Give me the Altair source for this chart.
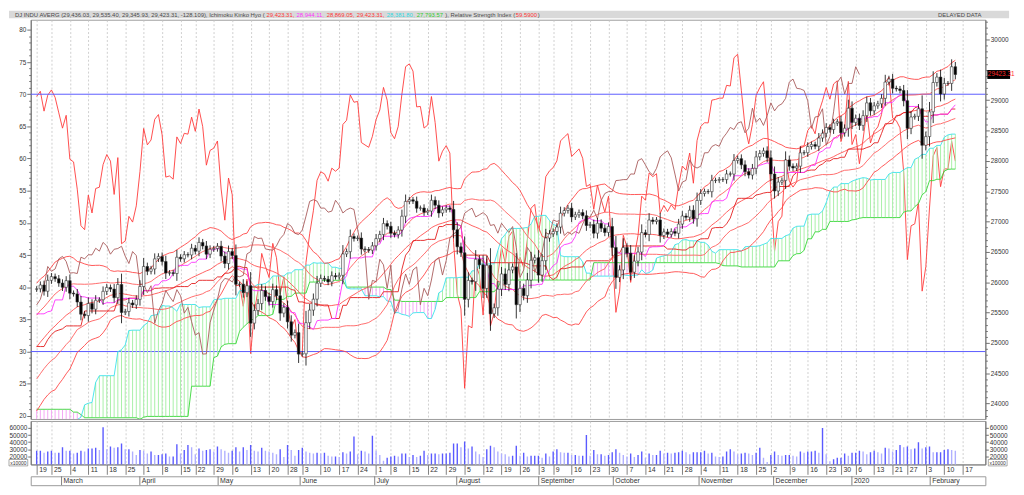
import json
import altair as alt
import pandas as pd
import numpy as np

# ---------------- data: DJIA daily closes (trading days) ----------------
close_2018_10 = [24984, 24689, 24443, 24874, 25116]
close_2018_11 = [25380, 25271, 25462, 25635, 26181, 26191, 25989, 25387, 25286, 25081, 25290,
                 25414, 25018, 24466, 24465, 24286, 24640, 24749, 25367, 25339, 25538]
close_2018_12 = [25826, 25027, 24947, 24389, 24423, 24370, 24527, 24597, 24101, 23592, 23675,
                 23324, 22859, 22445, 21792, 22878, 23139, 23062, 23327]
close_2019_01 = [23346, 22686, 23433, 23531, 23787, 23879, 24001, 23996, 23910, 24065, 24207,
                 24370, 24706, 24404, 24575, 24553, 24737, 24528, 24580, 25014, 24999]
close_2019_02 = [25064, 25239, 25411, 25390, 25169, 25106, 25053, 25425, 25543, 25439, 25883,
                 25891, 25954, 25851, 26031, 26092, 26057, 25986, 25916]
close_2019_03 = [26026, 25820, 25807, 25673, 25473, 25450, 25650, 25555, 25702, 25710, 25849,
                 25914, 25887, 25745, 25963, 25502, 25517, 25658, 25626, 25717, 25929]
close_2019_04 = [26259, 26180, 26218, 26385, 26425, 26341, 26150, 26157, 26143, 26412, 26385,
                 26453, 26450, 26560, 26512, 26656, 26598, 26462, 26543, 26555, 26593]
close_2019_05 = [26430, 26308, 26505, 26439, 25965, 25968, 25828, 25942, 25325, 25533, 25648,
                 25863, 25764, 25680, 25877, 25776, 25490, 25586, 25348, 25127, 25169, 24815]
close_2019_06 = [24820, 25333, 25540, 25720, 25984, 26062, 26049, 26004, 26107, 26090, 26113,
                 26466, 26504, 26753, 26720, 26727, 26548, 26537, 26527, 26600]
close_2019_07 = [26718, 26787, 26966, 26922, 26806, 26784, 26860, 27088, 27332, 27359, 27336,
                 27220, 27223, 27154, 27172, 27350, 27270, 27141, 27193, 27222, 27199, 26864]
close_2019_08 = [26583, 26485, 25718, 26030, 26008, 26378, 26287, 25897, 26280, 25479, 25579,
                 25886, 26136, 25963, 26202, 26252, 25629, 25899, 25778, 26036, 26362, 26403]
close_2019_09 = [26118, 26355, 26728, 26797, 26835, 26909, 27137, 27182, 27220, 27076, 27111,
                 27147, 27095, 26935, 26950, 26808, 26971, 26891, 26820, 26917]
close_2019_10 = [26573, 26079, 26202, 26573, 26478, 26165, 26347, 26497, 26817, 26787, 27025,
                 27001, 27026, 26770, 26828, 26789, 26834, 26806, 26958, 27091, 27071, 27186, 27046]
close_2019_11 = [27347, 27462, 27493, 27492, 27675, 27681, 27691, 27691, 27784, 27782, 28005,
                 28036, 27934, 27821, 27766, 27876, 28066, 28122, 28165, 28051]
close_2019_12 = [27783, 27503, 27650, 27678, 28015, 27910, 27882, 27912, 28132, 28135, 28236,
                 28268, 28240, 28377, 28455, 28551, 28516, 28622, 28645, 28462, 28538]
close_2020_01 = [28869, 28634, 28703, 28584, 28745, 28956, 28824, 28907, 28940, 29030, 29298,
                 29348, 29196, 29186, 29160, 28990, 28536, 28723, 28734, 28859, 28256]
close_2020_02 = [28400, 28808, 29291, 29380, 29103, 29276, 29276, 29551, 29423.31]

# volume (shares), visible range only (from 2019-02-19)
vol_2019_02 = [28000, 28000, 25000, 27000, 28000, 25000, 25000, 33000]
vol_2019_03 = [28000, 28000, 24000, 25000, 28000, 27000, 31000, 31000, 32000, 29000, 61000,
               30000, 34000, 32000, 33000, 38000, 30000, 30000, 27000, 22000, 29000]
vol_2019_04 = [28000, 24000, 27000, 22000, 22000, 23000, 24000, 20000, 20000, 37000, 24000,
               29000, 36000, 33000, 23000, 31000, 28000, 29000, 30000, 27000, 34000]
vol_2019_05 = [30000, 28000, 25000, 28000, 33000, 27000, 33000, 29000, 36000, 28000, 27000,
               32000, 28000, 27000, 25000, 23000, 30000, 19000, 36000, 29000, 21000, 29000]
vol_2019_06 = [32000, 27000, 25000, 24000, 25000, 24000, 25000, 21000, 20000, 20000, 19000,
               26000, 24000, 27000, 48000, 23000, 28000, 27000, 24000, 49000]
vol_2019_07 = [28000, 22000, 14000, 18000, 20000, 21000, 20000, 24000, 24000, 19000, 22000,
               19000, 21000, 28000, 22000, 24000, 24000, 23000, 24000, 24000, 25000, 38000]
vol_2019_08 = [38000, 33000, 41000, 31000, 34000, 27000, 23000, 19000, 30000, 35000, 33000,
               27000, 24000, 23000, 20000, 21000, 35000, 21000, 25000, 20000, 21000, 21000]
vol_2019_09 = [21000, 18000, 24000, 20000, 27000, 30000, 26000, 25000, 25000, 22000, 22000,
               21000, 21000, 50000, 21000, 29000, 23000, 23000, 21000, 22000]
vol_2019_10 = [26000, 30000, 25000, 22000, 20000, 24000, 19000, 22000, 27000, 18000, 24000,
               22000, 22000, 28000, 24000, 25000, 24000, 25000, 26000, 28000, 26000, 23000, 26000]
vol_2019_11 = [26000, 26000, 28000, 24000, 25000, 20000, 19000, 20000, 27000, 30000, 27000,
               23000, 24000, 25000, 24000, 22000, 25000, 32000, 18000, 12000]
vol_2019_12 = [22000, 27000, 22000, 21000, 22000, 22000, 21000, 20000, 27000, 25000, 27000,
               27000, 28000, 25000, 60000, 23000, 13000, 16000, 18000, 18000, 24000]
vol_2020_01 = [21000, 25000, 25000, 28000, 27000, 23000, 26000, 28000, 26000, 24000, 32000,
               31000, 27000, 29000, 36000, 33000, 34000, 30000, 31000, 40000, 31000]
vol_2020_02 = [33000, 34000, 26000, 26000, 26000, 29000, 30000, 29000, 28000]

market_holidays = ["2018-11-22", "2018-12-05", "2018-12-25", "2019-01-01", "2019-01-21",
                   "2019-02-18", "2019-04-19", "2019-05-27", "2019-07-04", "2019-09-02",
                   "2019-11-28", "2019-12-25", "2020-01-01", "2020-01-20"]
month_names = ["March", "April", "May", "June", "July", "August", "September", "October",
               "November", "December", "2020", "February"]
rsi_levels = [70, 30]
last_price = [29423.31]

# ---------------- build table ----------------
closes = (close_2018_10 + close_2018_11 + close_2018_12 + close_2019_01 + close_2019_02 +
          close_2019_03 + close_2019_04 + close_2019_05 + close_2019_06 + close_2019_07 +
          close_2019_08 + close_2019_09 + close_2019_10 + close_2019_11 + close_2019_12 +
          close_2020_01 + close_2020_02)
volumes = (vol_2019_02 + vol_2019_03 + vol_2019_04 + vol_2019_05 + vol_2019_06 + vol_2019_07 +
           vol_2019_08 + vol_2019_09 + vol_2019_10 + vol_2019_11 + vol_2019_12 + vol_2020_01 +
           vol_2020_02)

dates = pd.bdate_range("2018-10-25", "2020-02-13")
dates = dates[~dates.isin(pd.to_datetime(market_holidays))]
n = min(len(dates), len(closes))
df = pd.DataFrame({"date": dates[:n], "close": closes[:n]})
df["open"] = df["close"].shift(1).fillna(df["close"])
body_hi = np.maximum(df["open"], df["close"])
body_lo = np.minimum(df["open"], df["close"])
wick = 0.3 * (df["close"] - df["open"]).abs() + 40
df["high"] = body_hi + wick
df["low"] = body_lo - wick

# Ichimoku
df["tenkan"] = (df["high"].rolling(9).max() + df["low"].rolling(9).min()) / 2
df["kijun"] = (df["high"].rolling(26).max() + df["low"].rolling(26).min()) / 2
df["sa"] = ((df["tenkan"] + df["kijun"]) / 2).shift(26)
df["sb"] = ((df["high"].rolling(52).max() + df["low"].rolling(52).min()) / 2).shift(26)
df["chikou"] = df["close"].shift(-26)
# Bollinger (25)
m = df["close"].rolling(25).mean()
sd = df["close"].rolling(25).std(ddof=0)
df["bbm"] = m
df["bbu1"], df["bbl1"] = m + sd, m - sd
df["bbu2"], df["bbl2"] = m + 2 * sd, m - 2 * sd
# RSI 14 (Wilder)
d = df["close"].diff()
ag = d.clip(lower=0).fillna(0).ewm(alpha=1 / 14, adjust=False).mean()
al = (-d.clip(upper=0)).fillna(0).ewm(alpha=1 / 14, adjust=False).mean()
df["rsi"] = 100 - 100 / (1 + ag / al)

vis = df[df["date"] >= "2019-02-19"].copy().reset_index(drop=True)
vis["idx"] = np.arange(len(vis))
k = min(len(vis), len(volumes))
vis = vis.iloc[:k].copy()
vis["volume"] = volumes[:k]
vis["vdir"] = np.where(vis["volume"] >= vis["volume"].shift(1).fillna(0), "inc", "dec")
vis["dir"] = np.where(vis["close"] >= vis["open"], "up", "down")
vis["cloud"] = np.where(vis["sa"] >= vis["sb"], "bull", "bear")

# week ticks (first trading day of each week) + next week's Monday
iso = vis["date"].dt.isocalendar()
wk = vis.groupby([iso["year"], iso["week"]])["idx"].min().sort_values()
week_idx = [int(v) for v in wk.values] + [len(vis) + 1]
week_lbl = [str(vis.loc[i, "date"].day) for i in week_idx[:-1]] + ["17"]
mstart = vis.groupby(vis["date"].dt.to_period("M"))["idx"].min().sort_values()
month_idx = [int(v) for v in mstart.values if v > 0]
mon_df = pd.DataFrame({"idx": month_idx[:len(month_names)], "name": month_names[:len(month_idx)]})

# ---------------- layout constants ----------------
W = 966
H_HDR, H_MAIN, H_VOL, H_MON = 6, 404, 44, 9
XDOM = [-0.27, 255.8]
PDOM = [23746, 30326]
RDOM = [19.52, 81.58]
VDOM = [8700, 69900]
FONT = "Liberation Sans"
AXFS = 6.5
GRID = dict(grid=True, gridDash=[2, 2], gridColor="#c4c4c4", gridWidth=0.8)

xs = alt.Scale(domain=XDOM, nice=False, zero=False)
X_main = alt.X("idx:Q", scale=xs, title=None,
               axis=alt.Axis(values=week_idx, labels=False, ticks=False, domain=False,
                             minExtent=0, maxExtent=0, **GRID))

# ---------------- header ----------------
CW = {",": .278, ".": .278, " ": .278, "(": .333, ")": .333, "-": .333, "D": .722, "J": .5,
      "I": .278, "N": .722, "U": .722, "A": .667, "V": .667, "E": .667, "R": .722, "G": .778,
      "K": .667, "H": .722, "S": .667, "L": .556, "Y": .667, "T": .611, "i": .222, "l": .222,
      "m": .833, "t": .278, "r": .333, "f": .278, "j": .222, "c": .5, "k": .5, "s": .5,
      "v": .5, "x": .5, "y": .5, "z": .5}


def emw(s):
    return sum(CW.get(c, .556) for c in s)


segs = [("DJ INDU AVERG (29,436.03, 29,535.40, 29,345.93, 29,423.31, -128.109), Ichimoku Kinko Hyo (", "#4a4a4a"),
        ("29,423.31, ", "#ff3434"), ("28,944.11, ", "#ff33ff"), ("28,869.05, ", "#ff3434"),
        ("29,423.31, ", "#ff3434"), ("28,381.80, ", "#2fd8e0"), ("27,793.57 ", "#30cc30"),
        ("), Relative Strength Index (", "#4a4a4a"), ("59.5900", "#ff3434"), (")", "#4a4a4a")]
hfs = 254.0 / emw(segs[0][0])
x0 = 14 - 30.0
rows = []
for t, c in segs:
    rows.append({"text": t.rstrip(), "px": x0, "col": c})
    x0 += emw(t) * hfs + 0.6
hdr_df = pd.DataFrame(rows)

one = pd.DataFrame({"a": [0]})
hdr_bg = alt.Chart(one).mark_rect(color="#d9d9d9").encode(
    x=alt.value(-22), x2=alt.value(W + 24), y=alt.value(-1), y2=alt.value(H_HDR + 0.5))
hdr_txt = alt.Chart(hdr_df).mark_text(align="left", baseline="middle", font=FONT, fontSize=hfs).encode(
    x=alt.X("px:Q", scale=None), y=alt.value(H_HDR / 2), text="text:N", color=alt.Color("col:N", scale=None))
hdr_right = alt.Chart(pd.DataFrame({"t": ["DELAYED DATA"]})).mark_text(
    align="right", baseline="middle", font=FONT, fontSize=hfs, color="#4a4a4a").encode(
    x=alt.value(W - 4), y=alt.value(H_HDR / 2), text="t:N")
header = alt.layer(hdr_bg, hdr_txt, hdr_right).properties(
    width=W, height=H_HDR, view=alt.ViewBackground(strokeWidth=0))

# ---------------- main panel ----------------
rs = alt.Scale(domain=RDOM, nice=False, zero=False)
r_axis = alt.Axis(orient="left", values=list(range(20, 81)), title=None, grid=False,
                  labelExpr="datum.value % 5 === 0 ? datum.label : ''",
                  tickSize={"condition": {"test": "datum.value % 5 === 0", "value": 4}, "value": 2},
                  labelPadding=1)
rsi_df = vis[["idx", "rsi"]].dropna()
rsi_line = alt.Chart(rsi_df).mark_line(color="#ff3a3a", strokeWidth=0.9, clip=True).encode(
    x=X_main, y=alt.Y("rsi:Q", scale=rs, axis=r_axis, title=None))
lvl = alt.Chart(pd.DataFrame({"rsi": rsi_levels})).mark_rule(color="#5a5aff", strokeWidth=1).encode(
    y=alt.Y("rsi:Q", scale=rs, axis=r_axis, title=None))
rsi_group = alt.layer(rsi_line, lvl)

ps = alt.Scale(domain=PDOM, nice=False, zero=False)
p_axis = alt.Axis(orient="right", values=list(range(23800, 30301, 100)), title=None, grid=False,
                  format="d",
                  labelExpr="datum.value % 500 === 0 && datum.value !== 29500 ? datum.label : ''",
                  tickSize={"condition": {"test": "datum.value % 500 === 0", "value": 4}, "value": 2},
                  labelPadding=1)


def Yp(f):
    return alt.Y(f, scale=ps, axis=p_axis, title=None)


cloud_df = vis[["idx", "sa", "sb", "cloud"]].dropna()
cloud = alt.Chart(cloud_df).mark_rule(strokeWidth=1, clip=True).encode(
    x=X_main, y=Yp("sa:Q"), y2="sb:Q",
    color=alt.Color("cloud:N", scale=alt.Scale(domain=["bull", "bear"], range=["#a8f0a8", "#f4a8f4"]), legend=None))

series = ["sb", "sa", "bbu2", "bbu1", "bbm", "bbl1", "bbl2", "kijun", "tenkan", "chikou"]
scol = ["#36d636", "#3ae2ec", "#ff4646", "#ff5c5c", "#ff5050", "#ff5c5c", "#ff4646", "#e41c1c", "#ff30ff", "#a85a5a"]
long = vis.melt(id_vars="idx", value_vars=series, var_name="series", value_name="value").dropna()
lines = alt.Chart(long).mark_line(strokeWidth=0.9, clip=True).encode(
    x=X_main, y=Yp("value:Q"),
    color=alt.Color("series:N", scale=alt.Scale(domain=series, range=scol), legend=None),
    order=alt.Order("idx:Q"))

candles = vis[["idx", "open", "close", "high", "low", "dir"]]
wicks = alt.Chart(candles).mark_rule(color="#000000", strokeWidth=0.8, clip=True).encode(
    x=X_main, y=Yp("low:Q"), y2="high:Q")
bodies = alt.Chart(candles).mark_bar(size=2.6, stroke="#303030", strokeWidth=0.6, clip=True).encode(
    x=X_main, y=Yp("open:Q"), y2="close:Q",
    color=alt.Color("dir:N", scale=alt.Scale(domain=["up", "down"], range=["#ffffff", "#000000"]), legend=None))

lp = pd.DataFrame({"p": last_price, "t": ["%.2f" % v for v in last_price]})
lp_box = alt.Chart(lp).mark_rule(color="#000000", strokeWidth=9).encode(
    x=alt.value(W + 2), x2=alt.value(W + 25), y=Yp("p:Q"))
lp_txt = alt.Chart(lp).mark_text(color="#ff2a2a", font=FONT, fontSize=6.5, align="left", baseline="middle").encode(
    x=alt.value(W + 2.5), y=Yp("p:Q"), text="t:N")
price_group = alt.layer(cloud, lines, wicks, bodies, lp_box, lp_txt).resolve_scale(color="independent")

main = alt.layer(rsi_group, price_group).resolve_scale(y="independent", color="independent").properties(
    width=W, height=H_MAIN)

# ---------------- volume panel ----------------
lbl_expr = "%s[indexof(%s, datum.value)]" % (json.dumps(week_lbl), json.dumps(week_idx))
X_vol = alt.X("idx:Q", scale=xs, title=None,
              axis=alt.Axis(values=week_idx, labelExpr=lbl_expr, ticks=True, tickSize=10, tickColor="#808080",
                            domainColor="#808080", labelAlign="left", labelBaseline="top", labelPadding=-9,
                            labelFontSize=7, labelOffset=2, labelOverlap=False, labelFlush=False,
                            labelBound=False, **GRID))
vs = alt.Scale(domain=VDOM, nice=False, zero=False)
vvals = [20000, 30000, 40000, 50000, 60000]
vbars = alt.Chart(vis[["idx", "volume", "vdir"]]).mark_bar(size=1.4, clip=True).encode(
    x=X_vol,
    y=alt.Y("volume:Q", scale=vs, title=None,
            axis=alt.Axis(orient="left", values=vvals, format="d", tickSize=3, labelPadding=1, grid=False)),
    color=alt.Color("vdir:N", scale=alt.Scale(domain=["inc", "dec"], range=["#5a5aff", "#b0b0ff"]), legend=None))
vbars_r = alt.Chart(vis[["idx", "volume"]]).mark_bar(size=1.4, opacity=0).encode(
    x=X_vol,
    y=alt.Y("volume:Q", scale=vs, title=None,
            axis=alt.Axis(orient="right", values=vvals, format="d", tickSize=3, labelPadding=1, grid=False)))
xbox_l = alt.Chart(one).mark_rect(fill="#ffffff", stroke="#707070", strokeWidth=0.6).encode(
    x=alt.value(-22), x2=alt.value(-3), y=alt.value(H_VOL - 5), y2=alt.value(H_VOL + 1.5))
xbox_r = alt.Chart(one).mark_rect(fill="#ffffff", stroke="#707070", strokeWidth=0.6).encode(
    x=alt.value(W + 3), x2=alt.value(W + 22), y=alt.value(H_VOL - 5), y2=alt.value(H_VOL + 1.5))
xt = pd.DataFrame({"t": ["x10000"]})
xtxt_l = alt.Chart(xt).mark_text(font=FONT, fontSize=5, color="#333333", align="center", baseline="middle").encode(
    x=alt.value(-12.5), y=alt.value(H_VOL - 1.7), text="t:N")
xtxt_r = alt.Chart(xt).mark_text(font=FONT, fontSize=5, color="#333333", align="center", baseline="middle").encode(
    x=alt.value(W + 12.5), y=alt.value(H_VOL - 1.7), text="t:N")
volume = alt.layer(vbars, vbars_r, xbox_l, xbox_r, xtxt_l, xtxt_r).resolve_scale(y="independent").properties(
    width=W, height=H_VOL)

# ---------------- month row ----------------
X_mon = alt.X("idx:Q", scale=xs, axis=None)
mrules = alt.Chart(mon_df).mark_rule(color="#808080", strokeWidth=1).encode(x=X_mon)
mtext = alt.Chart(mon_df).mark_text(align="left", baseline="middle", dx=2, font=FONT, fontSize=7,
                                    color="#333333").encode(x=X_mon, y=alt.value(H_MON / 2), text="name:N")
month = alt.layer(mrules, mtext).properties(width=W, height=H_MON)

chart = alt.vconcat(header, main, volume, month, spacing=0).resolve_scale(color="independent").properties(
    padding={"left": 0, "right": 0, "top": 0, "bottom": 0}
).configure_view(stroke="#9a9a9a", strokeWidth=1).configure_axis(
    labelFont=FONT, labelFontSize=AXFS, labelColor="#333333", domainColor="#707070", tickColor="#707070"
).configure_concat(spacing=0)

chart.save("out.html", embed_options={"renderer": "svg", "actions": False})
